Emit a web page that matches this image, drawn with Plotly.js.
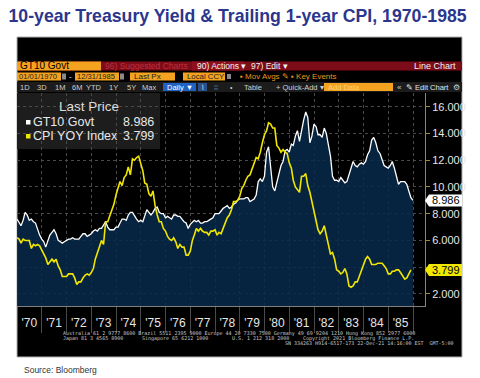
<!DOCTYPE html>
<html><head><meta charset="utf-8">
<script src="https://cdn.plot.ly/plotly-3.0.1.min.js"></script>
<style>html,body{margin:0;padding:0;background:#fff;}#chart{width:480px;height:378px;}</style>
</head><body><div id="chart"></div>
<script>
// ---------------- data ----------------
const years = [1970,1971,1972,1973,1974,1975,1976,1977,1978,1979,1980,1981,1982,1983,1984,1985];
const yearLabels = ["'70","'71","'72","'73","'74","'75","'76","'77","'78","'79","'80","'81","'82","'83","'84","'85"];
// GT10 Govt, monthly readings (Jan..Dec each year)
const gt10 = [
 7.6,7.3,7.1,7.5,8.1,7.9,7.5,7.6,7.4,7.3,6.8,6.4,
 6.1,5.9,5.5,5.9,6.4,6.6,6.8,6.5,6.0,5.9,5.8,5.9,
 6.0,6.1,6.1,6.2,6.1,6.1,6.1,6.3,6.5,6.5,6.3,6.4,
 6.5,6.7,6.8,6.7,6.9,6.9,7.2,7.4,7.0,6.8,6.8,6.8,
 7.0,7.0,7.3,7.6,7.6,7.5,7.9,8.1,8.1,7.8,7.6,7.4,
 7.5,7.4,7.8,8.3,8.1,7.9,8.1,8.4,8.5,8.1,8.0,8.0,
 7.7,7.8,7.7,7.6,7.9,7.9,7.8,7.8,7.6,7.4,7.3,6.9,
 7.2,7.4,7.5,7.4,7.5,7.3,7.3,7.4,7.4,7.5,7.6,7.7,
 8.0,8.0,8.0,8.2,8.4,8.5,8.6,8.4,8.5,8.7,8.8,9.0,
 9.1,9.1,9.1,9.2,9.2,8.9,9.0,9.1,9.4,10.4,10.6,10.4,
 10.8,12.6,13.0,11.2,10.0,9.7,10.3,11.1,11.6,11.9,12.7,12.8,
 12.6,13.2,13.1,13.8,14.2,13.4,14.3,15.0,15.6,15.2,13.3,13.8,
 14.7,14.5,13.9,13.9,13.7,14.4,14.0,13.0,12.3,10.8,10.5,10.5,
 10.4,10.7,10.5,10.3,10.4,10.9,11.4,11.9,11.6,11.5,11.7,11.8,
 11.7,11.9,12.4,12.7,13.5,13.7,13.3,12.7,12.5,12.1,11.6,11.5,
 11.4,11.6,11.9,11.4,10.8,10.2,10.4,10.4,10.4,10.2,9.7,9.2
];
const gt10LastDate = '1985-12-31';
const gt10Last = 8.986;
// CPI YOY Index, monthly (Jan..Dec each year)
const cpi = [
 6.2,6.1,5.8,6.1,6.0,6.0,6.0,5.4,5.7,5.6,5.7,5.6,
 5.3,5.0,4.7,4.2,4.4,4.6,4.4,4.6,4.1,3.8,3.3,3.3,
 3.3,3.5,3.5,3.5,3.2,2.7,2.9,2.9,3.2,3.4,3.5,3.4,
 3.6,3.9,4.6,5.1,5.5,6.0,5.7,7.4,7.4,7.8,8.3,8.7,
 9.4,10.0,10.4,10.1,10.7,10.9,11.5,10.9,12.1,12.0,12.2,12.3,
 11.8,11.2,10.3,10.2,9.5,9.3,9.7,8.6,7.9,7.4,7.4,6.9,
 6.7,6.3,6.1,6.0,6.2,5.9,5.4,5.7,5.5,5.5,4.9,4.9,
 5.2,6.0,6.4,6.9,6.7,6.9,6.7,6.6,6.6,6.4,6.7,6.7,
 6.8,6.4,6.6,6.5,6.9,7.4,7.7,7.9,8.3,8.9,8.9,9.0,
 9.3,9.9,10.1,10.5,10.8,10.9,11.3,11.8,12.2,12.1,12.6,13.3,
 13.9,14.2,14.8,14.7,14.4,14.4,13.1,12.9,12.6,12.8,12.6,12.5,
 11.8,11.4,10.5,10.0,9.8,9.6,10.8,10.8,11.0,10.1,9.6,8.9,
 8.4,7.6,6.8,6.5,6.7,7.1,6.4,5.9,5.0,5.1,4.6,3.8,
 3.7,3.5,3.6,3.9,3.5,2.6,2.5,2.6,2.9,2.9,3.3,3.8,
 4.2,4.6,4.8,4.6,4.2,4.2,4.2,4.3,4.3,4.3,4.1,3.9,
 3.5,3.5,3.7,3.7,3.8,3.8,3.6,3.3,3.1,3.2,3.5,3.799
];
const yTicks = [2,4,6,8,10,12,14,16];
const yTickText = ['2.000','','6.000','8.000','10.000','12.000','14.000','16.000'];

// ---------------- helpers ----------------
const monthDates = [];
years.forEach(y => { for (let m = 1; m <= 12; m++) monthDates.push(y + '-' + String(m).padStart(2,'0') + '-01'); });
const midYear = years.map(y => y + '-07-02');
const yearStarts = years.map(y => (y + 1) + '-01-01');

const L = 17, T = 93, PW = 408, PH = 213;
const px = p => (p - L) / PW;
const py = p => (T + PH - p) / PH;
const FONT = 'Arial, Liberation Sans, sans-serif';

const shapes = [];
const ann = [];
function rect(x0, y0, x1, y1, fill, line) {
  shapes.push({type:'rect', xref:'paper', yref:'paper', x0:px(x0), x1:px(x1), y0:py(y1), y1:py(y0),
    fillcolor:fill, line:{width: line ? 1 : 0, color: line || fill}, layer:'below'});
}
function text(x, y, t, color, size, anchor, fam) {
  ann.push({xref:'paper', yref:'paper', x:px(x), y:py(y), text:t, showarrow:false, borderpad:0,
    xanchor: anchor || 'left', yanchor:'middle', font:{color:color, size:size, family: fam || FONT}});
}

// black panel
rect(17, 37, 462, 357, '#000000', '#b0b0b0');
// row 1
rect(17, 61.5, 462, 70.5, '#7c0c18');
rect(17, 61.5, 101, 70.5, '#f4a21f');
text(19, 66, 'GT10 Govt', '#000', 10);
text(104, 66, '96) Suggested Charts', '#c0303f', 8.5);
rect(192, 61.5, 244, 70.5, '#8e1020');
text(196, 66, '90) Actions ▾', '#f2f2f2', 8.5);
text(250, 66, '97) Edit ▾', '#f2f2f2', 8.5);
text(457, 66, 'Line Chart', '#f2f2f2', 9, 'right');
// row 2
rect(17, 72.5, 61, 80.5, '#f4a21f');
text(18, 76.5, '01/01/1970', '#222', 7.6);
rect(62, 73.5, 66, 79.5, '#8a8a8a');
text(70, 76.5, '-', '#f2f2f2', 8, 'center');
rect(75, 72.5, 119, 80.5, '#f4a21f');
text(76, 76.5, '12/31/1985', '#222', 7.6);
rect(120, 73.5, 124, 79.5, '#8a8a8a');
rect(130, 72.5, 175, 80.5, '#f4a21f');
text(133, 76.5, 'Last Px', '#222', 8);
rect(183, 72.5, 225, 80.5, '#f4a21f');
text(186, 76.5, 'Local CCY', '#222', 7.8);
rect(227, 74, 231, 79, '#8a8a8a');
text(239, 76.5, '▪ Mov Avgs ✎', '#e8951c', 8);
text(290, 76.5, '▪ Key Events', '#e8951c', 8);
// row 3
rect(17, 82, 462, 92, '#1c1c1c');
[['1D',25],['3D',42],['1M',60],['6M',77],['YTD',94],['1Y',113],['5Y',131],['Max',149]].forEach(d => text(d[1], 87, d[0], '#cfcfcf', 7.5, 'center'));
rect(163, 83, 196, 91, '#1f62c6');
text(179.5, 87, 'Daily ▼', '#ffffff', 7.5, 'center');
rect(198, 83, 207, 91, '#2a4f8a');
text(202.5, 87, '⌇', '#cfe0ff', 7, 'center');
text(216, 87, '⁞⁞', '#9a9a9a', 7, 'center');
text(231, 87, '•', '#cfcfcf', 7, 'center');
text(253, 87, 'Table', '#cfcfcf', 7.5, 'center');
text(275, 87, '+ Quick-Add ▾', '#cfcfcf', 7.5);
rect(324, 83, 393, 91, '#f4a21f');
text(327, 87, 'Add Data', '#fbd28c', 7.5);
text(399, 87, '«', '#cfcfcf', 8, 'center');
text(405, 87, '✎ Edit Chart', '#e6e6e6', 7.5);
text(456, 87, '⚙', '#cfcfcf', 8, 'center');

// legend box
rect(17, 93, 160, 149, '#1d1d1d');
text(89, 106.7, 'Last Price', '#dcdcdc', 13.5, 'center');
rect(26, 120, 30.5, 124.5, '#ffffff');
text(32, 122, 'GT10 Govt', '#e8e8e8', 12.5);
text(155, 122, gt10Last.toFixed(3), '#e8e8e8', 12.5, 'right');
rect(26, 134, 30.5, 138.5, '#f0e600');
text(32, 136, 'CPI YOY Index', '#e8e8e8', 12.5);
text(155, 136, cpi[cpi.length - 1].toFixed(3), '#e8e8e8', 12.5, 'right');

// last-value tags on the right axis
const tagPath = 'M0,0 L4,6 L37,6 L37,-6 L4,-6 Z';
shapes.push({type:'path', xref:'paper', yref:'y', xsizemode:'pixel', ysizemode:'pixel', xanchor:1, yanchor:gt10Last,
  path:tagPath, fillcolor:'#ffffff', line:{width:0}, layer:'above'});
shapes.push({type:'path', xref:'paper', yref:'y', xsizemode:'pixel', ysizemode:'pixel', xanchor:1, yanchor:cpi[cpi.length-1],
  path:tagPath, fillcolor:'#f0e800', line:{width:0}, layer:'above'});
ann.push({xref:'paper', yref:'y', x:px(445.5), y:gt10Last, text:gt10Last.toFixed(3), showarrow:false, borderpad:0,
  xanchor:'center', yanchor:'middle', font:{color:'#000', size:11, family:FONT}});
ann.push({xref:'paper', yref:'y', x:px(445.5), y:cpi[cpi.length-1], text:cpi[cpi.length-1].toFixed(3), showarrow:false, borderpad:0,
  xanchor:'center', yanchor:'middle', font:{color:'#000', size:11, family:FONT}});

// footer
const MONO = 'DejaVu Sans Mono, monospace';
text(62, 333.5, 'Australia 61 2 9777 8600 Brazil 5511 2395 9000 Europe 44 20 7330 7500 Germany 49 69 9204 1210 Hong Kong 852 2977 6000', '#c8c8c8', 5, 'left', MONO);
text(62, 338, 'Japan 81 3 4565 8900', '#c8c8c8', 5, 'left', MONO);
text(141, 338, 'Singapore 65 6212 1000', '#c8c8c8', 5, 'left', MONO);
text(231, 338, 'U.S. 1 212 318 2000', '#c8c8c8', 5, 'left', MONO);
text(415, 338, 'Copyright 2021 Bloomberg Finance L.P.', '#c8c8c8', 5, 'right', MONO);
text(455, 342.5, 'SN 334263 H914-6517-173 22-Dec-21 14:16:00 EST  GMT-5:00', '#c8c8c8', 5, 'right', MONO);
// source
text(23, 369.5, 'Source: Bloomberg', '#333333', 8.5);

// ---------------- traces ----------------
const traces = [
  {x: monthDates.concat([gt10LastDate]), y: gt10.concat([gt10Last]), type:'scatter', mode:'lines',
   line:{color:'#ffffff', width:1.3}, fill:'tozeroy', fillcolor:'rgba(7,41,74,0.86)', hoverinfo:'skip'},
  {x: monthDates, y: cpi, type:'scatter', mode:'lines',
   line:{color:'#f0e600', width:1.6}, hoverinfo:'skip'}
];

const layout = {
  width:480, height:378,
  margin:{l:L, r:480-(L+PW), t:T, b:378-(T+PH), pad:0},
  paper_bgcolor:'#ffffff', plot_bgcolor:'#000000',
  showlegend:false,
  title:{text:'10-year Treasury Yield & Trailing 1-year CPI, 1970-1985', x:0.495, xanchor:'center',
    y:1 - 16/378, yanchor:'middle', yref:'container',
    font:{family:FONT, size:17.7, color:'#2b368c', weight:'bold'}},
  xaxis:{type:'date', range:['1970-01-01','1986-06-27'], tickmode:'array', tickvals:midYear, ticktext:yearLabels,
    ticks:'outside', ticklen:6, tickcolor:'rgba(0,0,0,0)', tickfont:{color:'#e6e6e6', size:12, family:FONT},
    showgrid:false, showline:true, linecolor:'#808080', linewidth:1, zeroline:false, fixedrange:true,
    minor:{tickmode:'array', tickvals:yearStarts, ticks:'outside', ticklen:26, tickcolor:'#4a4a4a', tickwidth:1,
      showgrid:true, gridcolor:'#4a4a4a', griddash:'dot', gridwidth:1}},
  yaxis:{side:'right', range:[1.10, 17.02], tickmode:'array', tickvals:yTicks, ticktext:yTickText,
    ticks:'outside', ticklen:4, tickcolor:'#a08c20', showline:true, linecolor:'#a08c20', linewidth:1,
    showgrid:true, gridcolor:'#4a4a4a', griddash:'dot', gridwidth:1, zeroline:false, fixedrange:true,
    tickfont:{color:'#e6e6e6', size:11, family:FONT}},
  shapes:shapes,
  annotations:ann
};

Plotly.newPlot('chart', traces, layout, {displayModeBar:false, staticPlot:true});
</script>
</body></html>
